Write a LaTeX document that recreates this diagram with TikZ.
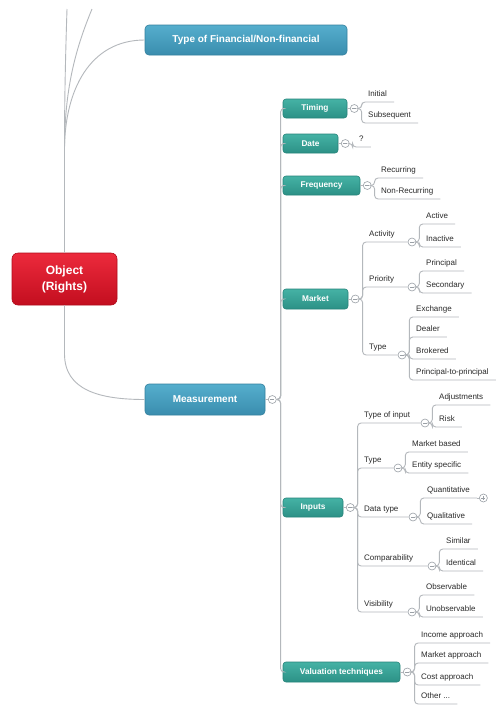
\documentclass[tikz,border=0pt]{standalone}
\usepackage{fontspec}
\setmainfont{Liberation Sans}
\usetikzlibrary{calc}
\definecolor{blueA}{HTML}{55AECD}
\definecolor{blueB}{HTML}{3A8DAE}
\definecolor{blueD}{HTML}{33809E}
\definecolor{greenA}{HTML}{45B2A5}
\definecolor{greenB}{HTML}{2C9186}
\definecolor{greenD}{HTML}{26837A}
\definecolor{redA}{HTML}{EC2A3C}
\definecolor{redB}{HTML}{C30E1F}
\definecolor{redD}{HTML}{B00C1B}
\definecolor{linegray}{HTML}{B4B8BC}
\definecolor{circgray}{HTML}{9AA0A6}
\definecolor{leaftext}{HTML}{2A2A2A}
\tikzset{
  conn/.style={draw=linegray, line width=0.9pt, rounded corners=3.5pt},
  mainbox/.style={rounded corners=4pt, text=white, font=\bfseries\fontsize{10}{12}\selectfont, draw=blueD, line width=0.6pt, top color=blueA, bottom color=blueB, inner sep=0pt},
  subbox/.style={rounded corners=3pt, text=white, font=\bfseries\fontsize{8.3}{10}\selectfont, draw=greenD, line width=0.6pt, top color=greenA, bottom color=greenB, inner sep=0pt, minimum height=19pt},
  rootbox/.style={rounded corners=6pt, text=white, font=\bfseries\fontsize{12}{16}\selectfont, draw=redD, line width=0.6pt, top color=redA, bottom color=redB, inner sep=0pt, align=center},
  leaf/.style={anchor=south west, text=leaftext, font=\fontsize{8}{9}\selectfont, inner xsep=7pt, inner ysep=3pt, text height=6pt, text depth=2pt},
  circ/.style={circle, draw=circgray, line width=0.6pt, fill=white, minimum size=8pt, inner sep=0pt,
    path picture={\draw[circgray, line width=0.6pt] ([xshift=-2pt]path picture bounding box.center) -- ([xshift=2pt]path picture bounding box.center);}},
  pluscirc/.style={circle, draw=circgray, line width=0.6pt, fill=white, minimum size=8pt, inner sep=0pt,
    path picture={\draw[circgray, line width=0.6pt] ([xshift=-2pt]path picture bounding box.center) -- ([xshift=2pt]path picture bounding box.center) ([yshift=-2pt]path picture bounding box.center) -- ([yshift=2pt]path picture bounding box.center);}},
}
\begin{document}
\begin{tikzpicture}[x=1pt,y=-1pt]
\useasboundingbox[fill=white] (0,0) rectangle (496,705);

% ---------- main nodes ----------
\node[rootbox, minimum width=105pt, minimum height=52pt] (obj) at (64.5,279) {Object\\(Rights)};
\node[mainbox, minimum width=202pt, minimum height=30pt] (typ) at (246,40) {Type of Financial/Non-financial};
\node[mainbox, minimum width=120pt, minimum height=31pt] (meas) at (205,399.5) {Measurement};
\node[circ] (cmeas) at ([xshift=7pt]meas.east) {};

% ---------- object connectors ----------
\coordinate (j) at (64.5,150);
\coordinate (t1) at (67,9);
\coordinate (t2) at (92,9);
\draw[conn] (obj.north) -- (j) .. controls (64.5,90) and (66,40) .. (t1);
\draw[conn] (j) .. controls (64.5,90) and (75,50) .. (t2);
\draw[conn] (j) .. controls (64.5,90) and (90,40) .. (typ.west);
\draw[conn] (obj.south) -- ++(0,45) .. controls +(0,40) and +(-45,0) .. (meas.west);
\draw[conn] (meas.east) -- (cmeas.west);

% ---------- measurement children ----------
\node[subbox, minimum width=64pt] (tim) at (315,108.5) {Timing};
\node[subbox, minimum width=55pt] (dat) at (310.5,143.5) {Date};
\node[subbox, minimum width=77pt] (fre) at (321.5,185.5) {Frequency};
\node[subbox, minimum width=65pt, minimum height=20pt] (mkt) at (315.5,299) {Market};
\node[subbox, minimum width=60pt] (inp) at (313,507.5) {Inputs};
\node[subbox, minimum width=117pt, minimum height=20pt] (val) at (341.5,672) {Valuation techniques};
\foreach \b in {tim,dat,fre,mkt,inp,val}{
  \draw[conn] (cmeas.east) -- ++(4,0) |- (\b.west);
}
\foreach \b in {tim,dat,fre,mkt,inp,val}{
  \node[circ] (c\b) at ([xshift=7pt]\b.east) {};
  \draw[conn] (\b.east) -- (c\b.west);
}

% ---------- Timing ----------
\node[leaf] (ini) at (361,102) {Initial};
\node[leaf] (sub) at (361,123) {Subsequent};
\foreach \l in {ini,sub}{\draw[conn] (ctim.east) -- ++(3,0) |- (\l.south east);}

% ---------- Date ----------
\node[leaf] (q) at (352,147) {?};
\draw[conn] (cdat.east) -- ++(3,0) |- (q.south east);

% ---------- Frequency ----------
\node[leaf] (rec) at (374,178) {Recurring};
\node[leaf] (nrec) at (374,199) {Non-Recurring};
\foreach \l in {rec,nrec}{\draw[conn] (cfre.east) -- ++(3,0) |- (\l.south east);}

% ---------- Market ----------
\node[leaf] (act) at (362,242) {Activity};
\node[leaf] (pri) at (362,287) {Priority};
\node[leaf] (mty) at (362,355) {Type};
\node[circ] (cact) at (412,242) {};
\node[circ] (cpri) at (412,287) {};
\node[circ] (cmty) at (402,355) {};
\foreach \l in {cact,cpri,cmty}{\draw[conn] (cmkt.east) -- ++(3,0) |- (\l.west);}

\node[leaf] (acti) at (419,224) {Active};
\node[leaf] (inac) at (419,247) {Inactive};
\foreach \l in {acti,inac}{\draw[conn] (cact.east) -- ++(3,0) |- (\l.south east);}

\node[leaf] (prin) at (419,271) {Principal};
\node[leaf] (seco) at (419,293) {Secondary};
\foreach \l in {prin,seco}{\draw[conn] (cpri.east) -- ++(3,0) |- (\l.south east);}

\node[leaf] (exch) at (409,317) {Exchange};
\node[leaf] (deal) at (409,337) {Dealer};
\node[leaf] (brok) at (409,359) {Brokered};
\node[leaf] (ptp) at (409,380) {Principal-to-principal};
\foreach \l in {exch,deal,brok,ptp}{\draw[conn] (cmty.east) -- ++(3,0) |- (\l.south east);}

% ---------- Inputs ----------
\node[leaf] (toi) at (357,423) {Type of input};
\node[leaf] (ity) at (357,468) {Type};
\node[leaf] (dty) at (357,517) {Data type};
\node[leaf] (cmp) at (357,566) {Comparability};
\node[leaf] (vis) at (357,612) {Visibility};
\node[circ] (ctoi) at (425,423) {};
\node[circ] (city) at (398,468) {};
\node[circ] (cdty) at (413,517) {};
\node[circ] (ccmp) at (432,566) {};
\node[circ] (cvis) at (412,612) {};
\foreach \l in {ctoi,city,cdty,ccmp,cvis}{\draw[conn] (cinp.east) -- ++(3,0) |- (\l.west);}

\node[leaf] (adj) at (432,405) {Adjustments};
\node[leaf] (risk) at (432,427) {Risk};
\foreach \l in {adj,risk}{\draw[conn] (ctoi.east) -- ++(3,0) |- (\l.south east);}

\node[leaf] (mbas) at (405,452) {Market based};
\node[leaf] (ents) at (405,473) {Entity specific};
\foreach \l in {mbas,ents}{\draw[conn] (city.east) -- ++(3,0) |- (\l.south east);}

\node[leaf] (quan) at (420,498) {Quantitative};
\node[leaf] (qual) at (420,524) {Qualitative};
\foreach \l in {quan,qual}{\draw[conn] (cdty.east) -- ++(3,0) |- (\l.south east);}
\node[pluscirc, anchor=west] (cquan) at ([xshift=2pt]quan.south east) {};
\draw[conn] (quan.south east) -- (cquan.west);

\node[leaf] (simi) at (439,549) {Similar};
\node[leaf] (iden) at (439,571) {Identical};
\foreach \l in {simi,iden}{\draw[conn] (ccmp.east) -- ++(3,0) |- (\l.south east);}

\node[leaf] (obs) at (419,595) {Observable};
\node[leaf] (uobs) at (419,617) {Unobservable};
\foreach \l in {obs,uobs}{\draw[conn] (cvis.east) -- ++(3,0) |- (\l.south east);}

% ---------- Valuation techniques ----------
\node[leaf] (inc) at (414,643) {Income approach};
\node[leaf] (mapp) at (414,663) {Market approach};
\node[leaf] (cost) at (414,685) {Cost approach};
\node[leaf] (oth) at (414,704) {Other ...};
\foreach \l in {inc,mapp,cost,oth}{\draw[conn] (cval.east) -- ++(3,0) |- (\l.south east);}
\end{tikzpicture}
\end{document}
